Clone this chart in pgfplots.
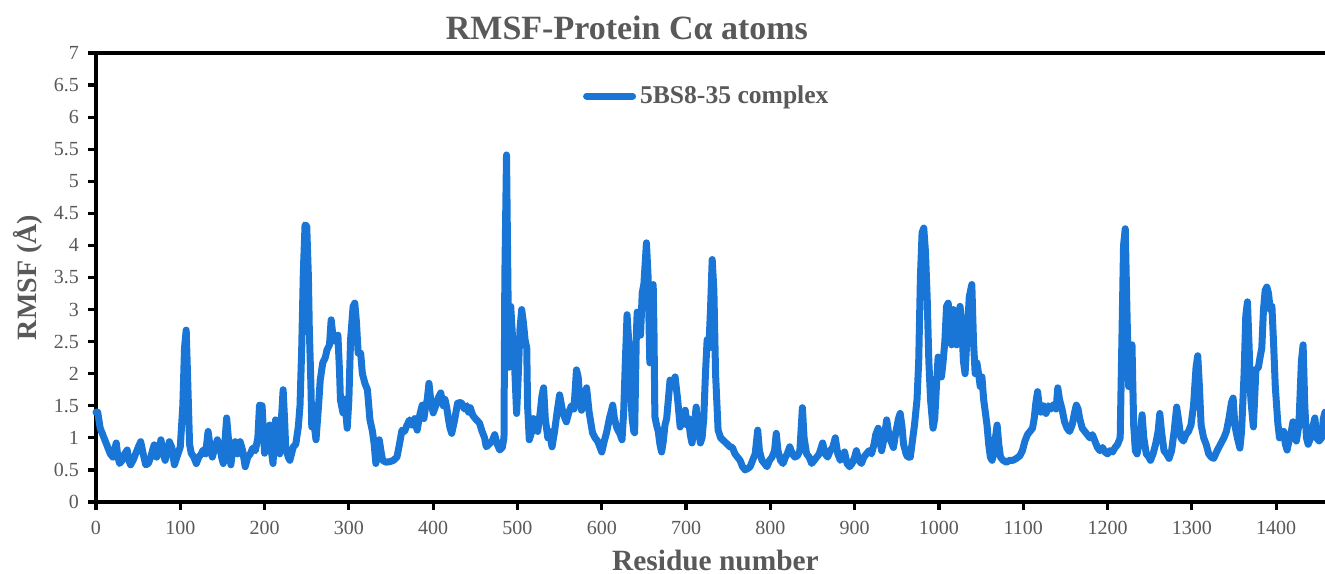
\documentclass[border=0pt]{standalone}
\usepackage{pgfplots}
\pgfplotsset{compat=1.18}
\usetikzlibrary{calc}
\usepackage{fontspec}
\setmainfont{Liberation Serif}
\definecolor{rmsfblue}{RGB}{25,118,214}
\definecolor{txtgray}{RGB}{89,89,89}
\begin{document}
\begin{tikzpicture}
\begin{axis}[
  name=ax,
  scale only axis,
  width=614.5pt, height=224.5pt,
  xmin=0, xmax=1458, ymin=0, ymax=7,
  axis lines*=left,
  axis line style={-, line width=1.6pt, black},
  xtick={0,100,...,1400},
  ytick={0,0.5,...,7},
  yticklabels={0,0.5,1,1.5,2,2.5,3,3.5,4,4.5,5,5.5,6,6.5,7},
  /pgf/number format/1000 sep={},
  tick align=outside,
  major tick length=4pt,
  tick style={black, line width=1.6pt},
  /pgf/number format/assume math mode=true,
  ticklabel style={font=\fontsize{10}{11}\selectfont, text=txtgray},
  yticklabel style={xshift=-1pt},
  xticklabel style={yshift=-2pt},
  clip=false,
  legend style={at={(rel axis cs:0.396,0.904)}, anchor=west, draw=none, fill=none,
    font=\fontsize{12.8}{14}\selectfont\bfseries, text=txtgray, inner sep=0pt},
  legend image code/.code={\draw[#1, line width=3.5pt] (0pt,0pt) -- (23pt,0pt);},
]
\addplot[rmsfblue, line width=3.5pt, line join=round, line cap=round] table {
x y
0 1.40
2 1.40
5 1.15
8 1.05
11 0.95
14 0.85
17 0.75
20 0.70
24 0.92
26 0.70
28 0.60
31 0.65
34 0.75
37 0.81
39 0.65
41 0.58
44 0.65
47 0.75
50 0.85
53 0.94
56 0.75
59 0.58
62 0.60
65 0.70
67 0.80
69 0.89
72 0.70
75 0.80
77 0.97
80 0.75
82 0.65
85 0.80
87 0.94
90 0.85
93 0.58
96 0.70
100 0.86
103 1.50
105 2.40
107 2.68
109 1.80
111 0.90
113 0.76
116 0.70
119 0.60
122 0.70
125 0.75
127 0.81
130 0.75
133 1.10
135 0.90
138 0.70
141 0.85
144 0.97
147 0.85
149 0.70
151 0.60
153 0.95
155 1.31
157 1.00
160 0.58
162 0.80
165 0.94
168 0.75
171 0.94
174 0.80
177 0.55
180 0.70
183 0.75
186 0.84
189 0.80
192 1.00
194 1.51
197 1.50
200 0.76
203 0.90
206 1.20
208 0.80
210 0.60
213 1.28
216 1.20
218 0.75
220 1.30
222 1.75
224 1.20
225 0.86
228 0.70
230 0.65
232 0.75
234 0.86
237 0.90
240 1.17
242 1.50
244 2.37
246 3.60
248 4.32
250 4.30
252 3.50
253 2.73
255 1.80
256 1.17
258 1.30
261 0.97
264 1.50
266 1.90
269 2.17
272 2.25
274 2.37
277 2.45
279 2.84
281 2.60
282 2.53
285 2.50
287 2.60
289 2.00
290 1.59
293 1.39
295 1.60
297 1.30
298 1.15
300 1.60
302 2.53
305 3.05
307 3.10
309 2.80
311 2.32
314 2.32
316 2.00
319 1.85
322 1.75
325 1.28
328 1.10
330 0.90
332 0.60
334 0.75
336 0.97
338 0.80
340 0.65
344 0.62
349 0.63
353 0.65
357 0.70
360 0.90
363 1.12
366 1.10
369 1.20
372 1.28
375 1.20
378 1.30
381 1.12
384 1.35
387 1.51
389 1.30
391 1.48
393 1.60
395 1.85
397 1.60
400 1.39
403 1.50
406 1.62
409 1.70
412 1.50
414 1.60
416 1.48
418 1.30
420 1.15
422 1.07
425 1.25
429 1.54
432 1.55
434 1.54
437 1.45
440 1.50
442 1.40
444 1.47
447 1.35
450 1.30
455 1.23
458 1.10
461 1.00
463 0.86
466 0.90
470 0.95
473 1.05
476 0.90
479 0.81
482 0.85
484 1.00
485 3.50
487 5.41
489 3.00
490 2.10
492 3.05
494 2.60
496 2.30
499 1.38
501 2.00
503 2.70
505 3.00
507 2.80
509 2.53
511 2.40
512 1.50
514 0.97
517 1.10
519 1.30
521 1.23
524 1.10
527 1.40
529 1.65
531 1.78
533 1.30
536 1.00
538 1.10
541 0.86
544 1.10
547 1.40
550 1.67
553 1.45
555 1.35
558 1.25
561 1.40
564 1.50
567 1.45
570 2.06
572 1.95
574 1.60
576 1.43
579 1.60
582 1.78
585 1.40
589 1.08
592 1.00
595 0.95
598 0.85
600 0.78
603 0.95
606 1.10
609 1.30
611 1.40
613 1.51
615 1.30
618 1.15
620 1.10
622 1.05
624 0.97
626 1.40
628 2.20
630 2.92
632 2.50
634 1.80
636 1.30
638 1.10
639 1.08
641 2.60
642 2.96
644 2.90
646 2.60
648 3.26
650 3.40
653 4.04
655 3.50
657 2.17
659 3.20
661 3.39
662 2.60
663 1.33
665 1.20
667 1.10
669 0.90
671 0.78
673 0.95
675 1.20
677 1.30
679 1.60
681 1.90
684 1.80
687 1.95
690 1.60
693 1.17
696 1.30
699 1.43
701 1.20
703 1.30
705 1.05
707 0.92
709 1.10
712 1.48
714 1.20
717 0.92
719 1.00
721 1.30
723 2.00
725 2.53
727 2.40
729 3.00
731 3.78
733 3.30
735 2.00
738 1.12
741 1.00
745 0.95
749 0.90
752 0.86
755 0.85
758 0.75
761 0.70
764 0.65
767 0.55
770 0.50
773 0.52
776 0.55
779 0.65
782 0.75
785 1.12
787 0.80
790 0.65
793 0.60
796 0.55
799 0.65
802 0.70
805 0.80
807 1.07
809 0.80
812 0.65
815 0.60
818 0.70
820 0.75
823 0.86
826 0.75
829 0.70
832 0.72
835 0.80
838 1.47
840 1.00
843 0.75
846 0.70
849 0.60
852 0.65
855 0.70
858 0.75
862 0.92
865 0.75
868 0.70
871 0.80
874 0.85
877 1.00
880 0.75
883 0.65
886 0.70
888 0.78
891 0.60
894 0.55
897 0.60
900 0.70
902 0.80
905 0.65
908 0.60
911 0.70
914 0.75
917 0.80
920 0.75
923 0.90
925 1.05
928 1.15
930 0.95
932 0.80
935 1.00
938 1.28
940 1.10
943 0.95
946 0.85
949 1.10
952 1.30
954 1.38
956 1.20
958 0.90
961 0.75
963 0.70
966 0.70
968 0.90
971 1.20
974 1.60
976 2.20
978 3.50
980 4.20
982 4.27
984 3.90
986 3.20
988 2.20
990 1.60
992 1.30
993 1.15
995 1.30
997 1.80
999 2.26
1001 2.10
1003 1.95
1005 2.20
1007 2.50
1009 3.05
1011 3.10
1013 2.70
1015 2.45
1017 3.00
1019 2.50
1021 2.45
1023 2.70
1025 3.05
1027 2.80
1029 2.20
1031 2.00
1033 2.50
1036 3.20
1039 3.39
1041 2.50
1043 2.00
1045 2.17
1047 2.00
1049 1.80
1051 1.95
1053 1.60
1055 1.40
1057 1.20
1059 0.90
1061 0.70
1063 0.65
1065 0.75
1067 1.00
1069 1.20
1071 0.90
1073 0.70
1076 0.65
1080 0.62
1084 0.65
1088 0.65
1092 0.68
1096 0.72
1099 0.80
1102 0.95
1105 1.05
1108 1.10
1111 1.15
1113 1.30
1115 1.55
1117 1.72
1119 1.50
1121 1.40
1124 1.50
1127 1.38
1130 1.50
1133 1.45
1136 1.52
1139 1.45
1141 1.78
1143 1.60
1146 1.45
1149 1.25
1152 1.15
1155 1.10
1158 1.20
1161 1.40
1163 1.51
1165 1.45
1167 1.30
1170 1.15
1173 1.10
1176 1.05
1179 1.00
1182 1.05
1185 0.95
1188 0.85
1191 0.80
1194 0.85
1197 0.78
1200 0.75
1203 0.80
1206 0.78
1209 0.85
1212 0.90
1215 1.00
1217 2.50
1219 4.00
1221 4.26
1223 3.00
1225 1.80
1227 2.30
1229 2.45
1231 1.20
1233 0.80
1235 0.75
1238 0.95
1241 1.36
1243 1.00
1246 0.75
1249 0.70
1251 0.65
1254 0.75
1257 0.90
1260 1.10
1262 1.38
1264 1.10
1267 0.80
1270 0.75
1273 0.68
1276 0.80
1279 1.10
1282 1.48
1284 1.30
1287 1.00
1290 0.95
1293 1.05
1296 1.10
1299 1.20
1302 1.50
1305 2.10
1307 2.28
1309 1.80
1311 1.20
1314 1.00
1317 0.90
1320 0.75
1323 0.70
1326 0.68
1330 0.80
1334 0.90
1338 1.00
1341 1.10
1344 1.30
1347 1.55
1349 1.62
1351 1.20
1354 1.00
1357 0.84
1359 1.10
1362 2.00
1364 2.90
1366 3.12
1368 2.40
1370 1.60
1373 1.17
1376 2.06
1379 2.10
1381 2.26
1383 2.40
1385 3.00
1387 3.30
1389 3.35
1391 3.25
1393 3.00
1395 3.05
1397 2.47
1399 1.80
1402 1.23
1404 1.00
1406 1.05
1409 1.10
1411 0.90
1413 0.81
1416 1.00
1418 1.10
1420 1.25
1422 1.00
1424 0.95
1427 1.20
1430 2.20
1432 2.45
1434 1.50
1436 1.00
1438 0.90
1441 1.00
1444 1.20
1446 1.31
1448 1.00
1451 0.95
1454 1.00
1456 1.30
1458 1.40
};
\addlegendentry{5BS8-35 complex}
\end{axis}
\draw[line width=1.6pt, black] (ax.north west) -- (ax.north east);
\node[font=\fontsize{17}{18}\selectfont\bfseries, text=txtgray] at ([yshift=12.5pt]$(ax.north west)!0.432!(ax.north east)$) {RMSF-Protein Cα atoms};
\node[font=\fontsize{14.7}{16}\selectfont\bfseries, text=txtgray] at ([yshift=-29pt]$(ax.south west)!0.504!(ax.south east)$) {Residue number};
\node[font=\fontsize{14}{15}\selectfont\bfseries, text=txtgray, rotate=90] at ([xshift=-34pt]$(ax.south west)!0.5!(ax.north west)$) {RMSF (Å)};
\pgfresetboundingbox
\path[use as bounding box] ([xshift=-48pt, yshift=-36pt]ax.south west) rectangle ([yshift=26.5pt]ax.north east);
\end{tikzpicture}
\end{document}
